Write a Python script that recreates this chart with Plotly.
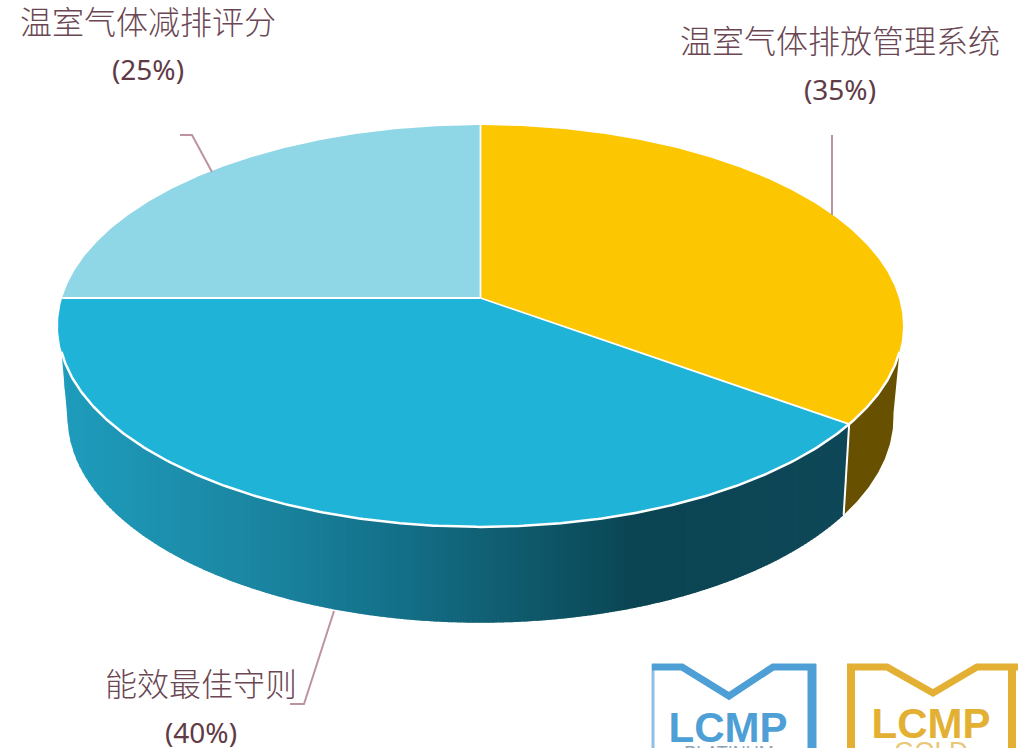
import numpy as np
import plotly.graph_objects as go

# Data
categories = ["温室气体排放管理系统", "能效最佳守则", "温室气体减排评分"]
shares = [35, 40, 25]
share_labels = ["(35%)", "(40%)", "(25%)"]
top_colors = ["#FCC600", "#1FB3D8", "#8FD7E7"]
yellow_side = "#675100"

# Side gradient of the blue wedge (x stop, r, g, b)
grad_x = [60, 250, 400, 500, 610, 630, 850]
grad_r = [31, 27, 20, 17, 12, 11, 15]
grad_g = [157, 135, 112, 94, 75, 68, 72]
grad_b = [189, 163, 137, 114, 90, 82, 88]

# Text anchors
label_x = [840, 201, 148]
label_y = [45, 688, 26]
pct_y = [93, 736, 73]

# Leader lines
leader_x = [[832, 832], [334, 304, 290], [212, 192, 180]]
leader_y = [[215, 135], [611, 704, 704], [172, 135, 135]]

# Projection of the tilted disc
CX, CY = 480.5, 298.0
UPPER = dict(a=418.4, b=197.0, k=0.1393, dy=0.0)
LOWER = dict(a=408.0, b=200.9, k=0.155, dy=87.0)
VIS_RIGHT, VIS_LEFT = 105.3, 254.7
LOW_RIGHT, LOW_LEFT = 98.0, 260.0
BAND = 3.0


def project(deg, p=UPPER):
    t = np.radians(np.asarray(deg, dtype=float))
    u, v = np.sin(t), np.cos(t)
    d = 1 + p["k"] * v
    return CX + p["a"] * u / d, CY + p["dy"] - p["b"] * v / d


def arc(a0, a1, step=0.5):
    n = max(2, int(abs(a1 - a0) / step) + 1)
    return np.linspace(a0, a1, n)


edges = np.cumsum([0] + shares) * 360.0 / sum(shares)

fig = go.Figure()


def poly(x, y, fill, lw=0.0, lc=None):
    fig.add_trace(go.Scatter(x=list(x), y=list(y), mode="lines", fill="toself", fillcolor=fill,
                             line=dict(color=lc or fill, width=lw), hoverinfo="skip", showlegend=False))


def line(x, y, color, width):
    fig.add_trace(go.Scatter(x=list(x), y=list(y), mode="lines", line=dict(color=color, width=width),
                             hoverinfo="skip", showlegend=False))


def text(x, y, s, size, family, color, weight=None):
    fig.add_trace(go.Scatter(x=[x], y=[y], mode="text", text=[s], textposition="middle center",
                             textfont=dict(size=size, family=family, color=color, weight=weight),
                             hoverinfo="skip", showlegend=False))


def grad_color(mx):
    return "rgb(%d,%d,%d)" % (np.interp(mx, grad_x, grad_r), np.interp(mx, grad_x, grad_g), np.interp(mx, grad_x, grad_b))


# Side of the yellow wedge
xt, yt = project(arc(VIS_RIGHT, edges[1]))
xb, yb = project(arc(LOW_RIGHT, edges[1]), LOWER)
poly(np.r_[xt, xb[::-1]], np.r_[yt, yb[::-1]], yellow_side)

# Side of the blue wedge: upright gradient bands following the two rims
top_x, top_y = project(arc(VIS_LEFT, edges[1]))
low_x, low_y = project(arc(LOW_LEFT, edges[1]), LOWER)
low_x = np.r_[top_x[0], low_x, top_x[-1]]
low_y = np.r_[top_y[0], low_y, top_y[-1]]
start = top_x[0]
while start < top_x[-1]:
    end = min(start + BAND + 1.0, top_x[-1])
    xs = np.linspace(start, end, 4)
    poly(np.r_[xs, xs[::-1]], np.r_[np.interp(xs, top_x, top_y), np.interp(xs[::-1], low_x, low_y)],
         grad_color(start + BAND / 2))
    start += BAND

# Edge between the two sides
xe0, ye0 = project([edges[1]])
xe1, ye1 = project([edges[1]], LOWER)
line([xe0[0], xe1[0]], [ye0[0], ye1[0]], "white", 2)

# Top wedges
for i in range(3):
    xa, ya = project(arc(edges[i], edges[i + 1]))
    poly(np.r_[CX, xa, CX], np.r_[CY, ya, CY], top_colors[i])

# Rim and wedge borders
xr, yr = project(arc(VIS_RIGHT, VIS_LEFT))
line(xr, yr, "white", 2.5)
for e in edges[:3]:
    xo, yo = project([e])
    line([CX, xo[0]], [CY, yo[0]], "white", 1.8)

# Leaders
for lx, ly in zip(leader_x, leader_y):
    line(lx, ly, "#BC94A0", 2)

# Labels
for i in range(3):
    text(label_x[i], label_y[i], categories[i], 32, "Noto Sans CJK SC", "#6A4753", 300)
    text(label_x[i], pct_y[i], share_labels[i], 28, "Noto Sans", "#5F3B46")

# Logos, cropped by the page edge
blue, gold = "#4E9FD6", "#E3B033"
line([653, 653], [748, 664], "#8CC0E6", 3)
line([812, 812], [748, 664], blue, 9)
line([652, 682, 729, 773, 816], [667, 667, 696, 667, 667], blue, 7)
line([851, 851], [748, 664], gold, 8)
line([1012, 1012], [748, 664], gold, 8)
line([847, 887, 933, 977, 1018], [667, 667, 693, 667, 667], gold, 7)
text(728, 731, "LCMP", 42, "Liberation Sans", blue, 700)
text(931, 727, "LCMP", 42, "Liberation Sans", gold, 700)
text(729, 754, "PLATINUM", 18, "Liberation Sans", "#8FA3B5")
text(931, 753, "GOLD", 26, "Liberation Sans", "#E8C878")

fig.update_layout(
    width=1018, height=748, margin=dict(l=0, r=0, t=0, b=0), showlegend=False,
    paper_bgcolor="white", plot_bgcolor="white",
    xaxis=dict(range=[0, 1018], visible=False, fixedrange=True),
    yaxis=dict(range=[748, 0], visible=False, fixedrange=True),
)
fig.write_html("out.html", config={"displayModeBar": False},
               post_script="document.body.style.margin='0';document.body.style.overflow='hidden';")
